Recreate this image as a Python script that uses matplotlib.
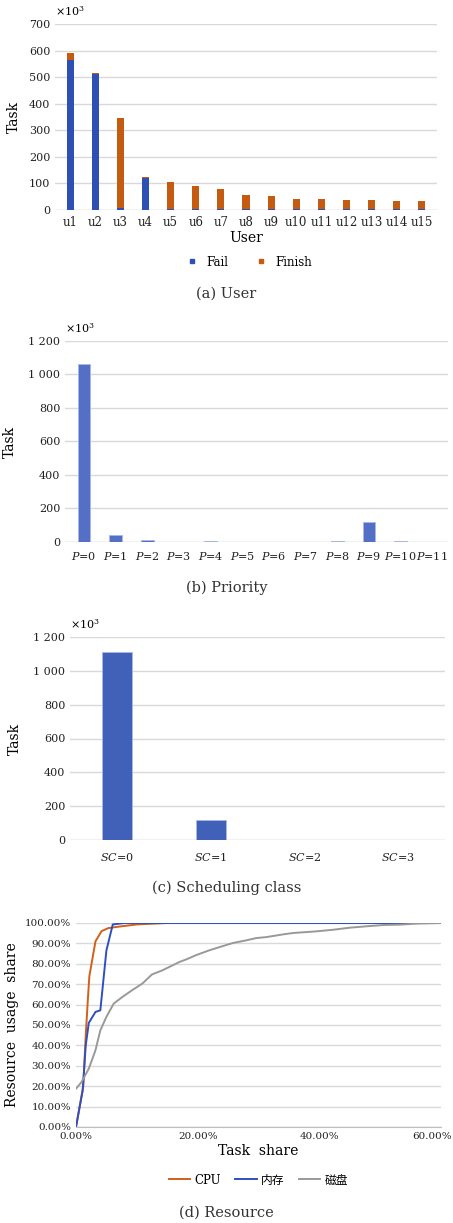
import numpy as np
import matplotlib
matplotlib.use('Agg')
import matplotlib.pyplot as plt
import matplotlib.transforms as mtransforms
from matplotlib.lines import Line2D
from matplotlib.ticker import FuncFormatter

plt.rcParams['font.family'] = ['DejaVu Serif', 'Noto Sans CJK SC']
plt.rcParams['mathtext.fontset'] = 'dejavuserif'

# (a) tasks per user, x10^3
users = ["u%d" % i for i in range(1, 16)]
fail = [566, 511, 6, 119, 3, 2, 3, 2, 3, 2, 2, 2, 2, 2, 2]
finish = [25, 4, 341, 6, 101, 89, 76, 56, 51, 39, 39, 37, 37, 33, 31]

# (b) tasks per priority, x10^3
prio_labels = ["$P$=%d" % i for i in range(12)]
prio_tasks = [1063, 44, 9, 0, 8, 0, 0, 0, 8, 121, 8, 0]

# (c) tasks per scheduling class, x10^3
sc_labels = ["$SC$=%d" % i for i in range(4)]
sc_tasks = [1111, 120, 0, 0]

# (d) cumulative resource usage share vs task share (%)
cpu_x = [0, 1.2, 1.6, 2.0, 2.2, 3.2, 4.2, 5.3, 7.0, 10.0, 15.0, 60.0]
cpu_y = [0, 20, 45, 65, 74, 91, 96, 97.5, 98.2, 99.3, 100, 100]
mem_x = [0, 1.1, 1.6, 2.1, 3.2, 4.0, 5.0, 6.05, 8.0, 60.0]
mem_y = [0, 18, 40, 51, 56.4, 57.2, 86.6, 99.3, 100, 100]
disk_x = [0, 0.9, 2.1, 3.2, 4.0, 5.0, 6.2, 7.6, 9.2, 10.9, 12.5, 14.2, 15.3, 17.0,
          18.0, 19.7, 21.9, 23.6, 25.8, 28.0, 29.6, 31.3, 34.0, 35.7, 39.5, 42.3,
          45.0, 47.8, 50.5, 53.3, 56.0, 60.0]
disk_y = [18.8, 22, 28.6, 37.6, 47.4, 54, 60.5, 63.7, 67, 70.3, 74.8, 76.8, 78.4, 80.9,
          82, 84.2, 86.6, 88.2, 90.2, 91.5, 92.6, 93.1, 94.4, 95.1, 95.9, 96.7,
          97.7, 98.4, 99, 99.2, 99.7, 100]

W, H = 453, 1223
fig = plt.figure(figsize=(W / 100, H / 100), dpi=100)

GRID = '#d9d9d9'
TXT = '#222222'


def add_ax(left, right, top, bottom):
    return fig.add_axes([left / W, 1 - bottom / H, (right - left) / W, (bottom - top) / H])


def style(ax):
    for s in ax.spines.values():
        s.set_visible(False)
    ax.grid(axis='y', color=GRID, linewidth=1)
    ax.set_axisbelow(True)
    ax.tick_params(length=0, labelsize=8, colors=TXT)
    ax.axhline(0, color=GRID, linewidth=1, zorder=0.5)


def thousands(v, pos):
    return ("{:,}".format(int(v))).replace(",", " ")


# ---- (a) User
ax = add_ax(55, 437, 24, 210)
style(ax)
x = np.arange(len(users))
ax.bar(x, fail, width=0.28, color='#2e4fb3')
ax.bar(x, finish, width=0.28, bottom=fail, color='#c55a11')
ax.set_xlim(-0.6, len(users) - 0.4)
ax.set_ylim(0, 700)
ax.set_yticks(range(0, 701, 100))
ax.set_xticks(x)
ax.set_xticklabels(users)
ax.tick_params(axis='x', pad=4, labelsize=8.5)
ax.set_ylabel("Task", fontsize=10, labelpad=6)
ax.set_xlabel("User", fontsize=10, labelpad=2)
ax.text(0.0, 1.03, r"$\times10^3$", transform=ax.transAxes, fontsize=8, va='bottom')
handles = [Line2D([], [], marker='s', linestyle='none', color='#2e4fb3', markersize=3.5),
           Line2D([], [], marker='s', linestyle='none', color='#c55a11', markersize=3.5)]
ax.legend(handles, ["Fail", "Finish"], loc='center', bbox_to_anchor=(0.5, -0.28),
          ncol=2, frameon=False, fontsize=8.5, handletextpad=0.2, columnspacing=1.8)
fig.text(0.5, 1 - 294 / H, "(a) User", ha='center', va='center', fontsize=10.5, color='#333333')

# ---- (b) Priority
ax = add_ax(65, 448, 341, 542)
style(ax)
x = np.arange(len(prio_labels))
ax.bar(x, prio_tasks, width=0.4, color='#5470c6', edgecolor='#aab8e6', linewidth=0.6)
ax.set_xlim(-0.6, len(prio_labels) - 0.5)
ax.set_ylim(0, 1200)
ax.set_yticks(range(0, 1201, 200))
ax.yaxis.set_major_formatter(FuncFormatter(thousands))
ax.set_xticks(x)
ax.set_xticklabels(prio_labels)
ax.tick_params(axis='x', pad=6, labelsize=8)
ax.set_ylabel("Task", fontsize=10, labelpad=8)
ax.text(0.0, 1.03, r"$\times10^3$", transform=ax.transAxes, fontsize=8, va='bottom')
fig.text(0.5, 1 - 588 / H, "(b) Priority", ha='center', va='center', fontsize=10.5, color='#333333')

# ---- (c) Scheduling class
ax = add_ax(70, 445, 637, 840)
style(ax)
x = np.arange(len(sc_labels))
ax.bar(x, sc_tasks, width=0.32, color='#4160b8', edgecolor='#aab8e6', linewidth=0.6)
ax.set_xlim(-0.5, len(sc_labels) - 0.5)
ax.set_ylim(0, 1200)
ax.set_yticks(range(0, 1201, 200))
ax.yaxis.set_major_formatter(FuncFormatter(thousands))
ax.set_xticks(x)
ax.set_xticklabels(sc_labels)
ax.tick_params(axis='x', pad=8, labelsize=8)
ax.set_ylabel("Task", fontsize=10, labelpad=8)
ax.text(0.0, 1.03, r"$\times10^3$", transform=ax.transAxes, fontsize=8, va='bottom')
fig.text(0.5, 1 - 888 / H, "(c) Scheduling class", ha='center', va='center', fontsize=10.5, color='#333333')

# ---- (d) Resource
ax = add_ax(76, 441, 923, 1127)
style(ax)
ax.spines['bottom'].set_visible(True)
ax.spines['bottom'].set_color('#bfbfbf')
ax.plot(cpu_x, cpu_y, color='#d2601a', linewidth=1.4, label="CPU")
ax.plot(mem_x, mem_y, color='#2f4fc0', linewidth=1.4, label="内存")
ax.plot(disk_x, disk_y, color='#999999', linewidth=1.4, label="磁盘")
ax.set_xlim(0, 60)
ax.set_ylim(0, 100)
ax.set_yticks(range(0, 101, 10))
ax.set_xticks([0, 20, 40, 60])
ax.yaxis.set_major_formatter(FuncFormatter(lambda v, p: "%.2f%%" % v))
ax.xaxis.set_major_formatter(FuncFormatter(lambda v, p: "%.2f%%" % v))
ax.tick_params(axis='both', labelsize=7.5)
# keep the last x label inside the figure
fig.canvas.draw()
last = ax.get_xticklabels()[-1]
last.set_horizontalalignment('right')
last.set_transform(last.get_transform() + mtransforms.ScaledTranslation(11 / 100, 0, fig.dpi_scale_trans))
ax.set_ylabel("Resource  usage  share", fontsize=10, labelpad=4)
ax.set_xlabel("Task  share", fontsize=10, labelpad=2)
ax.legend(loc='center', bbox_to_anchor=(0.5, -0.26), ncol=3, frameon=False,
          fontsize=8.5, handlelength=1.8, handletextpad=0.4, columnspacing=1.2)
fig.text(0.5, 1 - 1213 / H, "(d) Resource", ha='center', va='center', fontsize=10.5, color='#333333')

fig.savefig("out.png", dpi=100, facecolor='white')
